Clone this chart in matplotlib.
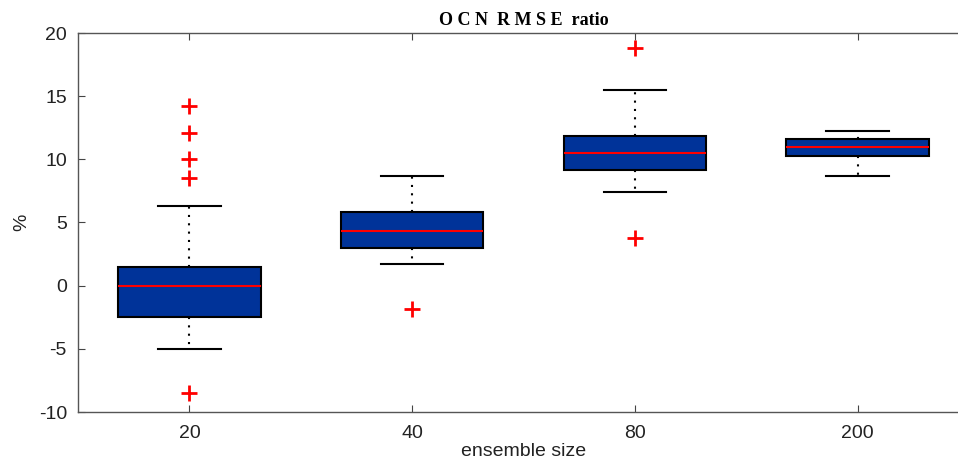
import matplotlib
matplotlib.use("Agg")
import matplotlib.pyplot as plt

plt.rcParams["axes.unicode_minus"] = False
plt.rcParams["font.family"] = ["Liberation Sans", "DejaVu Sans"]

categories = ["20", "40", "80", "200"]
q1 = [-2.5, 3.0, 9.15, 10.25]
median = [0.0, 4.35, 10.5, 11.0]
q3 = [1.5, 5.8, 11.85, 11.6]
whislo = [-5.0, 1.7, 7.4, 8.7]
whishi = [6.3, 8.7, 15.5, 12.25]
outliers = [[14.2, 12.1, 10.0, 8.5, -8.5], [-1.85], [18.8, 3.8], []]

stats = []
for i, c in enumerate(categories):
    stats.append(dict(label=c, q1=q1[i], med=median[i], q3=q3[i],
                      whislo=whislo[i], whishi=whishi[i], fliers=outliers[i]))

fig = plt.figure(figsize=(9.58, 4.61), dpi=100)
ax = fig.add_axes([78/958, 1 - 412/461, (969 - 78)/958, (412 - 33)/461])

ax.bxp(stats, positions=[1, 2, 3, 4], widths=0.64, patch_artist=True,
       boxprops=dict(facecolor="#003399", edgecolor="black", linewidth=1.5),
       medianprops=dict(color="red", linewidth=1.5),
       whiskerprops=dict(color="black", linestyle=(0, (1, 3)), linewidth=1.5),
       capprops=dict(color="black", linewidth=1.5),
       capwidths=0.28,
       flierprops=dict(marker="+", markeredgecolor="red", markersize=11, markeredgewidth=2, linestyle="none"))

ax.set_xlim(0.5, 4.5)
ax.set_ylim(-10, 20)
ax.set_yticks([-10, -5, 0, 5, 10, 15, 20])
ax.set_xticks([1, 2, 3, 4])
ax.set_xticklabels(categories)
ax.tick_params(direction="in", top=True, right=False, labelsize=14, length=5, color="#444444", labelcolor="#222222")
ax.tick_params(axis="x", pad=9)
ax.tick_params(axis="y", pad=8)
for s in ax.spines.values():
    s.set_color("#555555")
    s.set_linewidth(1.0)
ax.spines["right"].set_visible(False)

ax.set_xlabel("ensemble size", fontsize=14, color="#222222", labelpad=1)
ax.set_ylabel("%", fontsize=14, color="#222222", labelpad=6)
ax.set_title("O C N  R M S E  ratio", fontsize=13, family="Liberation Serif", fontweight="bold", pad=6)

fig.savefig("out.png", dpi=100)
